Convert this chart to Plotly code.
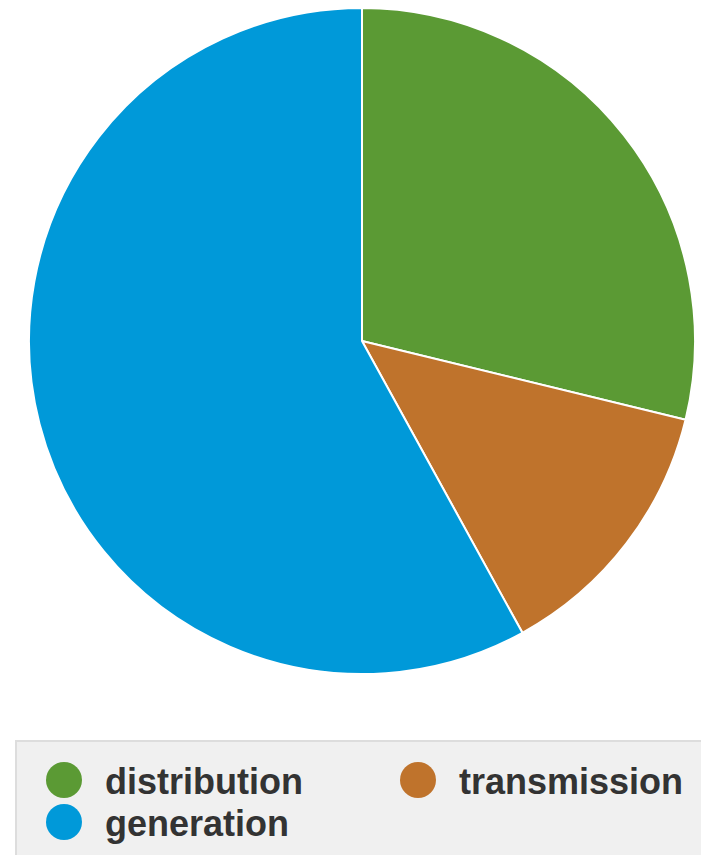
import plotly.graph_objects as go

categories = ["distribution", "transmission", "generation"]
values = [28.8, 13.2, 58.0]
colors = ["#5b9a34", "#bf732c", "#0099d9"]

# page body has an 8px margin; work in screen pixels and convert
OFF = 8
W, H = 701, 847

def px(x):
    return min(1, max(0, (x - OFF) / W))

def py(y):
    return min(1, max(0, 1 - (y - OFF) / H))

fig = go.Figure()
fig.add_trace(go.Pie(
    labels=categories,
    values=values,
    marker=dict(colors=colors, line=dict(color="white", width=2)),
    sort=False,
    direction="clockwise",
    rotation=0,
    textinfo="none",
    showlegend=False,
    domain=dict(x=[px(29), px(695)], y=[py(674), py(8)]),
))

shapes = [dict(type="rect", xref="paper", yref="paper",
               x0=px(16), x1=px(703), y0=-0.05, y1=py(741),
               fillcolor="#f0f0f0", line=dict(color="#dddddd", width=2), layer="below")]
annotations = []
positions = [(64, 780), (418, 780), (64, 822)]
for name, col, (cx, cy) in zip(categories, colors, positions):
    r = 18
    shapes.append(dict(type="circle", xref="paper", yref="paper",
                       x0=px(cx - r), x1=px(cx + r), y0=py(cy + r), y1=py(cy - r),
                       fillcolor=col, line=dict(width=0)))
    annotations.append(dict(text="<b>" + name + "</b>", xref="paper", yref="paper",
                            x=px(cx + 39), y=py(cy + 1), xanchor="left", yanchor="middle",
                            showarrow=False,
                            font=dict(family="Liberation Sans, Arial", size=36, color="#333333")))

fig.update_layout(
    width=W, height=H,
    margin=dict(l=0, r=0, t=0, b=0),
    paper_bgcolor="white",
    shapes=shapes,
    annotations=annotations,
)

fig.write_html("out.html")
